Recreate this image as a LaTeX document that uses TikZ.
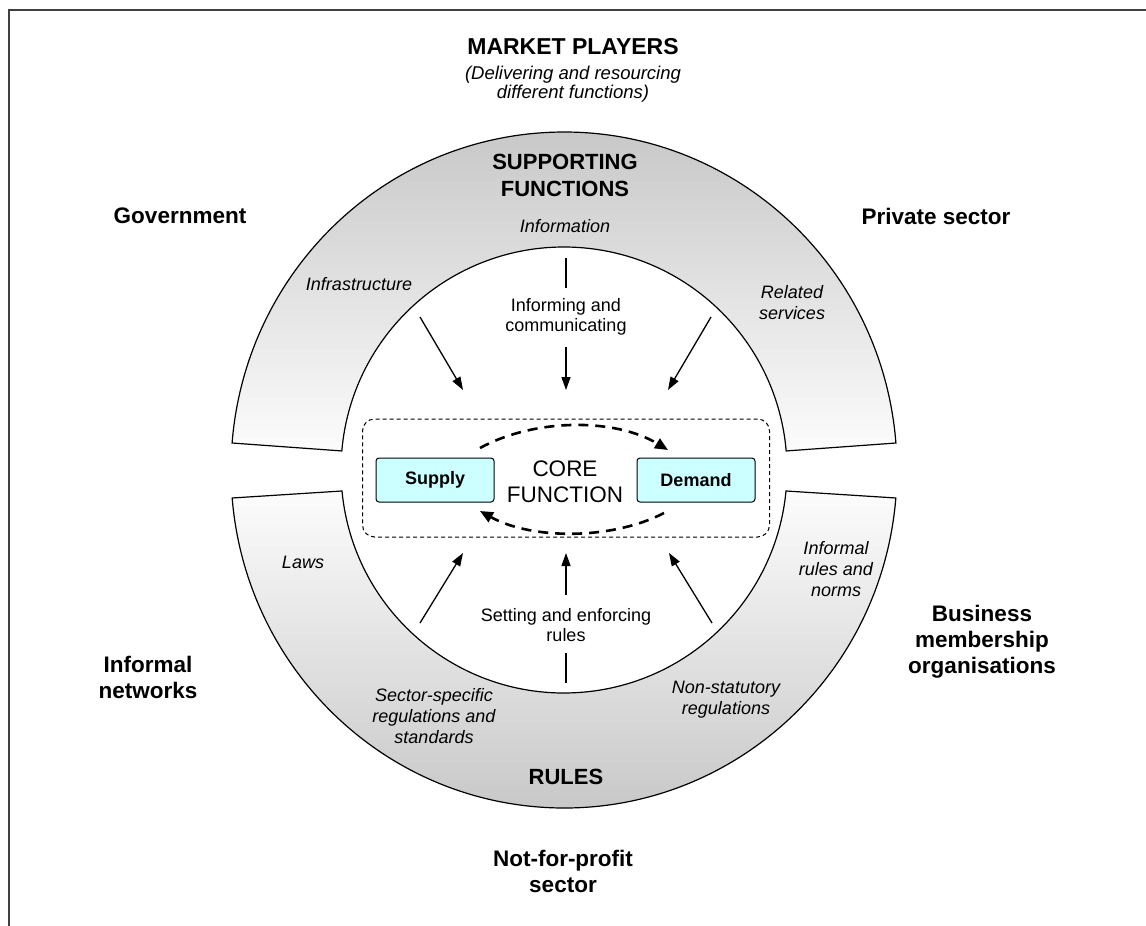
\documentclass[tikz,border=0pt]{standalone}
\usepackage{fontspec}
\setmainfont{Liberation Sans}
\usetikzlibrary{arrows.meta,calc}
\newcommand\myfs[2]{\fontsize{#1}{#2}\selectfont}
\definecolor{boxcyan}{RGB}{204,255,255}
\definecolor{ringdark}{RGB}{198,198,198}
\definecolor{ringlight}{RGB}{252,252,252}
\definecolor{framegray}{RGB}{64,64,64}
\begin{document}
\begin{tikzpicture}[x=1pt,y=1pt,
  lbl/.style={align=center,inner sep=0pt},
  outer/.style={lbl,font=\myfs{22.5}{26}\bfseries},
  head/.style={lbl,font=\myfs{22}{27}\bfseries},
  ital/.style={lbl,font=\myfs{18}{21}\itshape},
  plain/.style={lbl,font=\myfs{18}{20}},
  sdbox/.style={draw,line width=1pt,fill=boxcyan,rounded corners=3pt,minimum width=118pt,minimum height=44pt,font=\myfs{18}{20}\bfseries},
  arr/.style={line width=1.3pt,-{Triangle[length=13pt,width=9pt]}},
  darr/.style={line width=2.6pt,dash pattern=on 10pt off 7pt,-{Triangle[length=13pt,width=11pt]}},
  ring/.style={draw,line width=1.2pt}]
\useasboundingbox (0,0) rectangle (1146,-926);
% frame
\draw[framegray,line width=2.5pt] (9,-926) -- (9,-10) -- (1146,-10);
% rings
\coordinate (C) at (564,-470);
\path[ring,top color=ringdark,bottom color=ringlight]
  ($(C)+(4.58:333 and 338)$) arc[start angle=4.58,end angle=175.42,x radius=333,y radius=338]
  -- ($(C)+(175.1:223)$) arc[start angle=175.1,end angle=4.9,radius=223] -- cycle;
\path[ring,top color=ringlight,bottom color=ringdark]
  ($(C)+(-4.75:333 and 338)$) arc[start angle=-4.75,end angle=-175.25,x radius=333,y radius=338]
  -- ($(C)+(-174.6:223)$) arc[start angle=-174.6,end angle=-5.4,radius=223] -- cycle;
% titles
\node[lbl,font=\myfs{23}{28}\bfseries] (mp) at (573,-47) {MARKET PLAYERS};
\node[lbl,font=\myfs{18.5}{19}\itshape] (mpsub) at (573,-84) {(Delivering and resourcing\\different functions)};
\node[head] (sf) at (565,-175) {SUPPORTING\\FUNCTIONS};
\node[head] (rules) at (566,-777) {RULES};
% outer labels
\node[outer] (gov) at (180,-216) {Government};
\node[outer] (priv) at (936,-216) {Private sector};
\node[outer] (infnet) at (148,-677) {Informal\\networks};
\node[outer] (bmo) at (982,-642) {Business\\membership\\organisations};
\node[outer] (nfp) at (563,-871) {Not-for-profit\\sector};
% ring labels
\node[ital] (info) at (565,-226) {Information};
\node[ital] (infra) at (359,-284) {Infrastructure};
\node[ital] (rel) at (792,-303) {Related\\services};
\node[ital] (laws) at (303,-562) {Laws};
\node[ital] (irn) at (836,-569) {Informal\\rules and\\norms};
\node[ital] (ssr) at (434,-716) {Sector-specific\\regulations and\\standards};
\node[ital] (nsr) at (726,-700) {Non-statutory\\regulations};
% core
\node[draw,line width=1pt,dash pattern=on 4pt off 3pt,rounded corners=12pt,minimum width=407pt,minimum height=118pt] (core) at (566,-478) {};
\node[sdbox] (supply) at (435,-480) {Supply};
\node[sdbox] (demand) at (696,-480) {Demand};
\node[lbl,font=\myfs{22.5}{26}] (cf) at (565,-482) {CORE\\FUNCTION};
\draw[darr] (480,-448) .. controls (535,-418) and (615,-418) .. (668,-450);
\draw[darr] (664,-513) .. controls (612,-540) and (532,-540) .. (480,-511);
% upper arrows
\node[plain] (ic) at (566,-317) {Informing and\\communicating};
\coordinate (u1) at (566,-258); \coordinate (u2) at (566,-288);
\coordinate (u3) at (566,-347); \coordinate (u4) at (566,-390);
\draw[line width=1.3pt] (u1) -- (u2);
\draw[arr] (u3) -- (u4);
\coordinate (ul1) at (420,-317); \coordinate (ul2) at (463,-390);
\coordinate (ur1) at (711,-317); \coordinate (ur2) at (668,-390);
\draw[arr] (ul1) -- (ul2);
\draw[arr] (ur1) -- (ur2);
% lower arrows
\node[plain] (se) at (566,-625) {Setting and enforcing\\rules};
\coordinate (d1) at (566,-683); \coordinate (d2) at (566,-653);
\coordinate (d3) at (566,-595); \coordinate (d4) at (566,-553);
\draw[line width=1.3pt] (d1) -- (d2);
\draw[arr] (d3) -- (d4);
\coordinate (dl1) at (420,-623); \coordinate (dl2) at (463,-553);
\coordinate (dr1) at (712,-623); \coordinate (dr2) at (669,-553);
\draw[arr] (dl1) -- (dl2);
\draw[arr] (dr1) -- (dr2);
\end{tikzpicture}
\end{document}
